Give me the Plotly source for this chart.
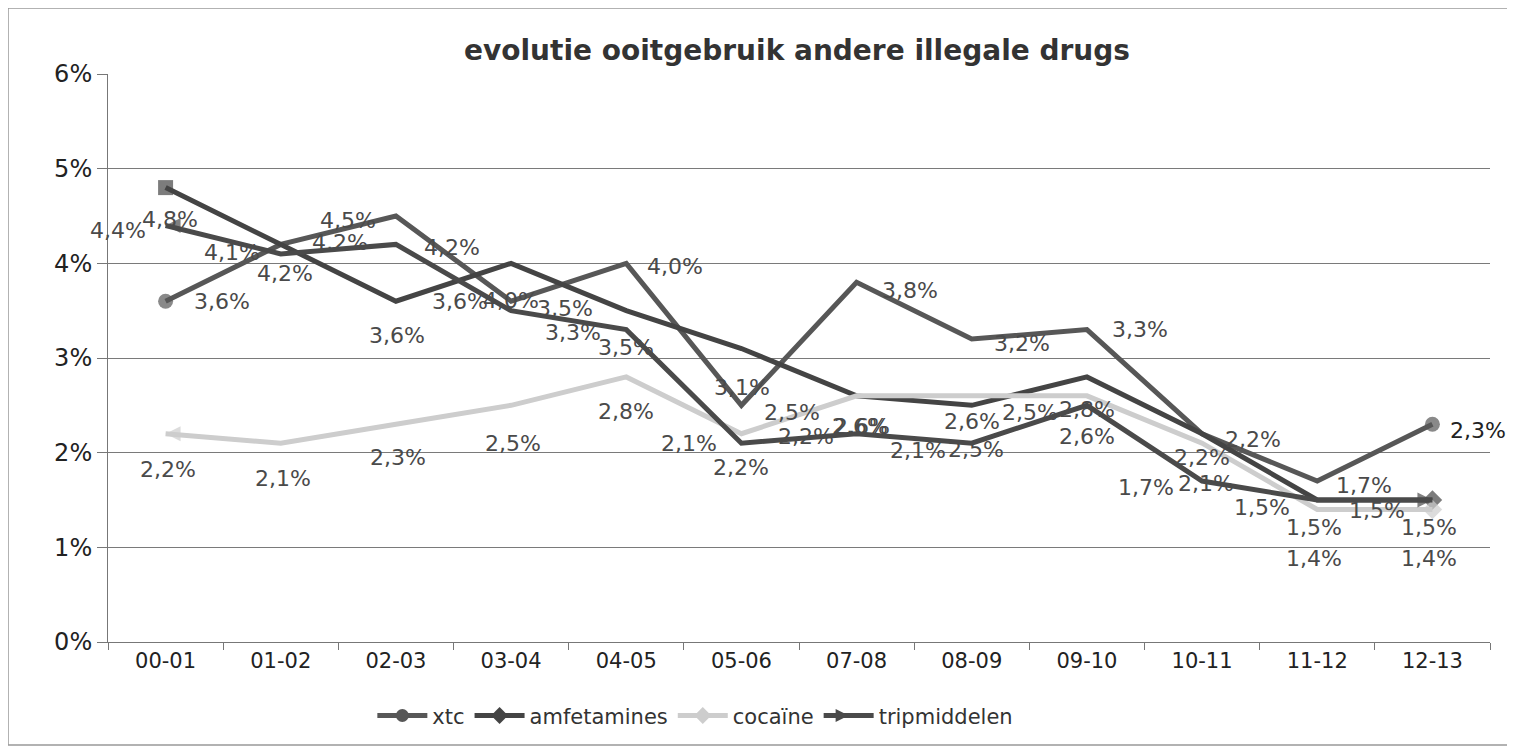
import plotly.graph_objects as go

categories = ["00-01", "01-02", "02-03", "03-04", "04-05", "05-06",
              "07-08", "08-09", "09-10", "10-11", "11-12", "12-13"]

xtc = [3.6, 4.2, 4.5, 3.6, 4.0, 2.5, 3.8, 3.2, 3.3, 2.2, 1.7, 2.3]
amfetamines = [4.8, 4.2, 3.6, 4.0, 3.5, 3.1, 2.6, 2.5, 2.8, 2.2, 1.5, 1.5]
cocaine = [2.2, 2.1, 2.3, 2.5, 2.8, 2.2, 2.6, 2.6, 2.6, 2.1, 1.4, 1.4]
tripmiddelen = [4.4, 4.1, 4.2, 3.5, 3.3, 2.1, 2.2, 2.1, 2.5, 1.7, 1.5, 1.5]

y_ticks = [0, 1, 2, 3, 4, 5, 6]

FONT = "DejaVu Sans"
LABEL_COLOR = "#4a4a4a"

# page offset (body margin) compensation
W, H = 1507, 742
L, T, PW, PH = 100, 66, 1382, 568


def fmt(v):
    return f"{v:.1f}".replace(".", ",") + "%"


# label offsets in pixels (dx right, dy down) – styling only
xtc_off = [(56, 0), (4, 29), (-48, 4), (-51, 0), (49, 3), (51, 7),
           (53, 8), (50, 4), (53, 0), (51, 6), (47, 4), (46, 6)]
amf_off = [(4, 32), (59, -2), (1, 34), (0, 37), (0, 37), (1, 39),
           (3, 31), (4, 44), (0, 33), (0, 24), (-3, 27), (-3, 27)]
coc_off = [(2, 36), (2, 35), (2, 33), (2, 38), (0, 35), (0, 34),
           (5, 31), (0, 26), (0, 41), (4, 40), (-3, 49), (-3, 49)]
trip_off = [(-48, 5), (-49, -1), (56, 3), (54, -2), (-53, 3), (-52, 0),
            (-51, 3), (-54, 7), (-57, 7), (-56, 6), (-55, 7), (-55, 10)]

series = [
    dict(name="xtc", y=xtc, color="#575757", off=xtc_off,
         s0="circle", s1="circle", lsym="circle"),
    dict(name="amfetamines", y=amfetamines, color="#444444", off=amf_off,
         s0="square", s1="diamond", lsym="diamond"),
    dict(name="cocaïne", y=cocaine, color="#cdcdcd", off=coc_off,
         s0="arrow-left", s1="diamond", lsym="diamond"),
    dict(name="tripmiddelen", y=tripmiddelen, color="#4a4a4a", off=trip_off,
         s0="arrow-left", s1="arrow-right", lsym="arrow-right"),
]

fig = go.Figure()
n = len(categories)
for s in series:
    fig.add_trace(go.Scatter(
        x=categories, y=s["y"], name=s["name"],
        mode="lines+markers",
        line=dict(color=s["color"], width=5),
        marker=dict(color=s["color"], size=[15] + [0] * (n - 2) + [15],
                    symbol=[s["s0"]] + [s["s1"]] * (n - 1),
                    line=dict(width=0)),
        showlegend=False, cliponaxis=False,
    ))
    # legend entry
    fig.add_trace(go.Scatter(
        x=[None], y=[None], name=s["name"], mode="lines+markers",
        line=dict(color=s["color"], width=5),
        marker=dict(color=s["color"], size=13, symbol=s["lsym"]),
    ))
    for i, v in enumerate(s["y"]):
        dx, dy = s["off"][i]
        fig.add_annotation(
            x=categories[i], y=v, text=fmt(v), showarrow=False,
            xshift=dx, yshift=-dy,
            font=dict(family=FONT, size=22,
                      color="#222222" if (s["name"] == "xtc" and i == n - 1)
                      else LABEL_COLOR),
        )

fig.update_layout(
    width=W, height=H,
    margin=dict(l=L, r=W - L - PW, t=T, b=H - T - PH),
    paper_bgcolor="white", plot_bgcolor="white",
    font=dict(family=FONT, color="#222222"),
    title=dict(text="<b>evolutie ooitgebruik andere illegale drugs</b>",
               x=789 / W, xanchor="center",
               y=1 - 42 / H, yanchor="middle",
               font=dict(family=FONT, size=28, color="#333333")),
    showlegend=True,
    legend=dict(orientation="h", x=0.425, xanchor="center",
                y=-0.13, yanchor="middle",
                font=dict(family=FONT, size=21, color="#333333"),
                itemwidth=50, bgcolor="rgba(0,0,0,0)"),
    xaxis=dict(type="category", range=[-0.5, 11.5],
               showline=True, linecolor="#777777", linewidth=1,
               ticks="outside", tickson="boundaries", ticklen=7,
               tickcolor="#777777",
               tickfont=dict(family=FONT, size=21, color="#222222"),
               showgrid=False, zeroline=False),
    yaxis=dict(range=[0, 6], tickvals=y_ticks,
               ticktext=[f"{t}%" for t in y_ticks],
               showline=True, linecolor="#777777", linewidth=1,
               ticks="outside", ticklen=10, tickcolor="#777777",
               tickfont=dict(family=FONT, size=24, color="#222222"),
               showgrid=True, gridcolor="#7a7a7a", gridwidth=1,
               zeroline=False),
)

fig.add_shape(type="rect", xref="paper", yref="paper",
              x0=(0 - L) / PW, x1=(1503 - L) / PW,
              y0=(T + PH - 737) / PH, y1=(T + PH - 0) / PH,
              line=dict(color="#999999", width=1.5), layer="below")

fig.write_html("out.html")
